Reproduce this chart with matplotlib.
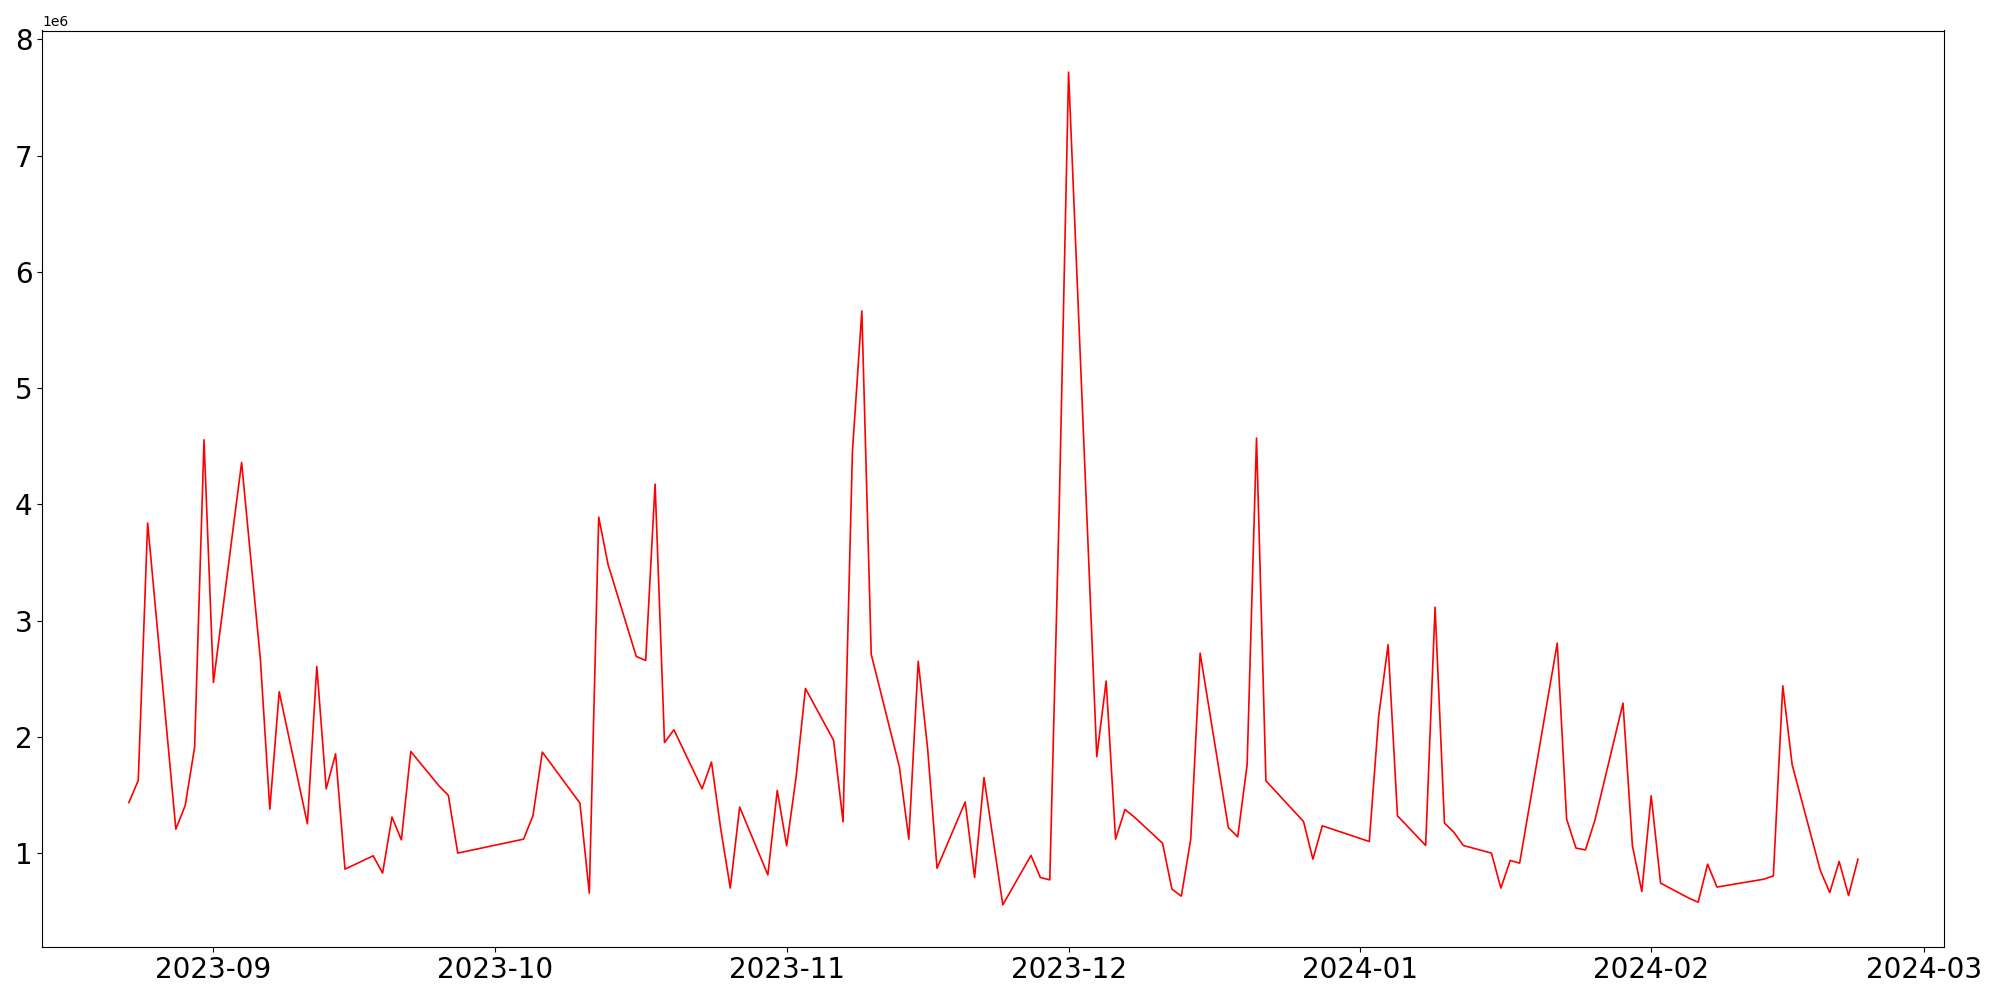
import matplotlib
matplotlib.use("Agg")
import matplotlib.pyplot as plt
import pandas as pd

# daily values (units of 1e6)
dates = [
    "2023-08-23", "2023-08-24", "2023-08-25", "2023-08-28", "2023-08-29",
    "2023-08-30", "2023-08-31", "2023-09-01", "2023-09-04", "2023-09-06",
    "2023-09-07", "2023-09-08", "2023-09-11", "2023-09-12", "2023-09-13",
    "2023-09-14", "2023-09-15", "2023-09-18", "2023-09-19", "2023-09-20",
    "2023-09-21", "2023-09-22", "2023-09-25", "2023-09-26", "2023-09-27",
    "2023-10-04", "2023-10-05", "2023-10-06", "2023-10-10", "2023-10-11",
    "2023-10-12", "2023-10-13", "2023-10-16", "2023-10-17", "2023-10-18",
    "2023-10-19", "2023-10-20", "2023-10-23", "2023-10-24", "2023-10-25",
    "2023-10-26", "2023-10-27", "2023-10-30", "2023-10-31", "2023-11-01",
    "2023-11-02", "2023-11-03", "2023-11-06", "2023-11-07", "2023-11-08",
    "2023-11-09", "2023-11-10", "2023-11-13", "2023-11-14", "2023-11-15",
    "2023-11-16", "2023-11-17", "2023-11-20", "2023-11-21", "2023-11-22",
    "2023-11-24", "2023-11-27", "2023-11-28", "2023-11-29", "2023-11-30",
    "2023-12-01", "2023-12-04", "2023-12-05", "2023-12-06", "2023-12-07",
    "2023-12-08", "2023-12-11", "2023-12-12", "2023-12-13", "2023-12-14",
    "2023-12-15", "2023-12-18", "2023-12-19", "2023-12-20", "2023-12-21",
    "2023-12-22", "2023-12-26", "2023-12-27", "2023-12-28", "2024-01-02",
    "2024-01-03", "2024-01-04", "2024-01-05", "2024-01-08", "2024-01-09",
    "2024-01-10", "2024-01-11", "2024-01-12", "2024-01-15", "2024-01-16",
    "2024-01-17", "2024-01-18", "2024-01-22", "2024-01-23", "2024-01-24",
    "2024-01-25", "2024-01-26", "2024-01-29", "2024-01-30", "2024-01-31",
    "2024-02-01", "2024-02-02", "2024-02-05", "2024-02-06", "2024-02-07",
    "2024-02-08", "2024-02-13", "2024-02-14", "2024-02-15", "2024-02-16",
    "2024-02-19", "2024-02-20", "2024-02-21", "2024-02-22", "2024-02-23",
]
values_m = [
    1.435, 1.625, 3.839, 1.206, 1.41,
    1.912, 4.555, 2.468, 4.36, 2.663,
    1.378, 2.388, 1.252, 2.605, 1.553,
    1.854, 0.862, 0.977, 0.828, 1.31,
    1.114, 1.874, 1.579, 1.496, 1.0,
    1.12, 1.321, 1.869, 1.43, 0.656,
    3.89, 3.48, 2.691, 2.657, 4.174,
    1.951, 2.061, 1.553, 1.783, 1.2,
    0.70, 1.396, 0.813, 1.539, 1.063,
    1.65, 2.416, 1.969, 1.269, 4.455,
    5.663, 2.71, 1.74, 1.12, 2.65,
    1.9, 0.87, 1.44, 0.79, 1.65,
    0.555, 0.98, 0.79, 0.77, 3.95,
    7.717, 1.83, 2.48, 1.12, 1.375,
    1.31, 1.085, 0.69, 0.63, 1.12,
    2.72, 1.22, 1.14, 1.76, 4.57,
    1.622, 1.272, 0.948, 1.235, 1.10,
    2.175, 2.792, 1.321, 1.066, 3.116,
    1.258, 1.18, 1.066, 1.0, 0.699,
    0.937, 0.914, 2.806, 1.292, 1.043,
    1.028, 1.28, 2.29, 1.063, 0.67,
    1.493, 0.742, 0.613, 0.578, 0.905,
    0.708, 0.776, 0.805, 2.439, 1.76,
    0.85, 0.661, 0.928, 0.635, 0.948,
]

x = pd.to_datetime(dates)
y = [v * 1e6 for v in values_m]

fig, ax = plt.subplots(figsize=(20, 10), dpi=100)
ax.plot(x, y, color="red", linewidth=1.2)

ax.tick_params(axis="both", labelsize=20)
fig.subplots_adjust(left=0.0212, right=0.9722, top=0.9695, bottom=0.0535)

fig.savefig("out.png")
